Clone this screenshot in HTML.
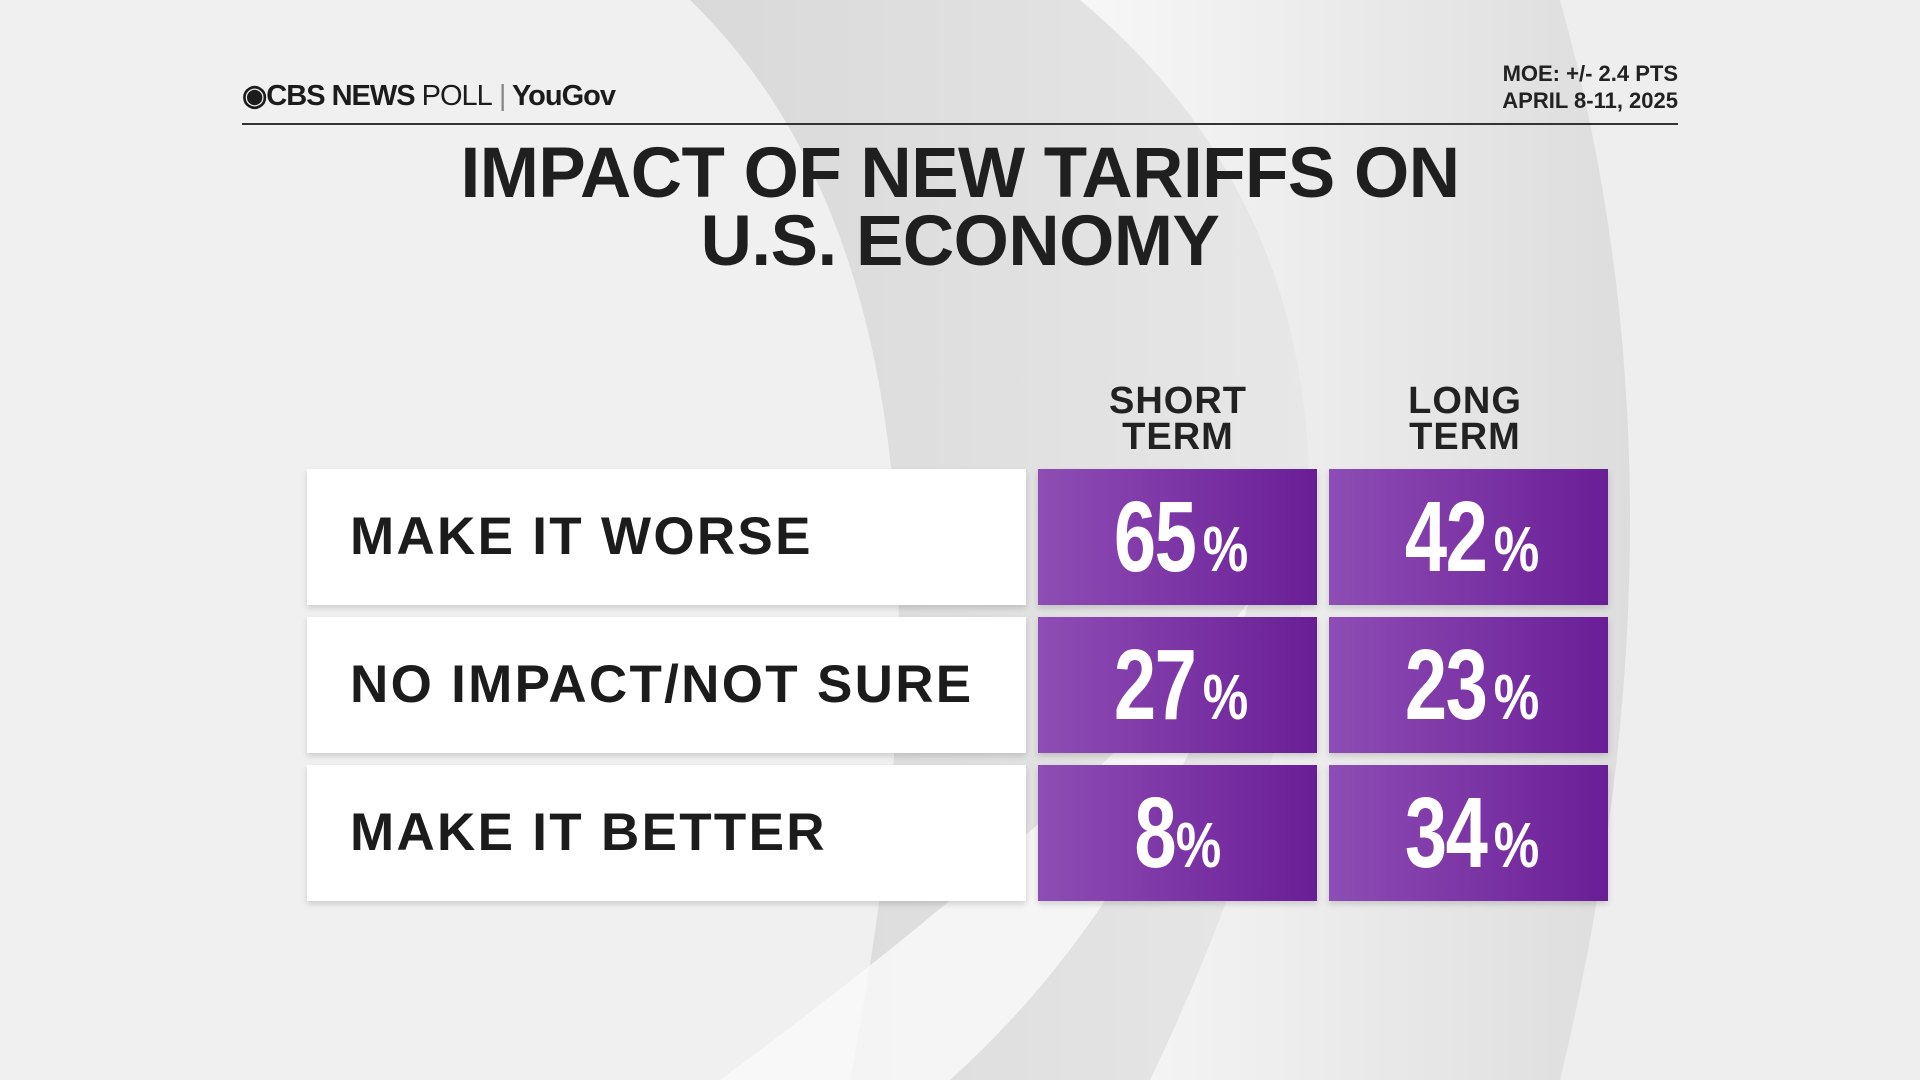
<!DOCTYPE html>
<html><head><meta charset="utf-8"><style>
body{margin:0;width:1920px;height:1080px;overflow:hidden;background:#efefef;font-family:"Liberation Sans",sans-serif;position:relative}
.bg{position:absolute;left:0;top:0}
.abs{position:absolute}
.hdr{left:242px;top:78px;font-size:29px;font-weight:bold;color:#1c1c1c;letter-spacing:-1px}
.moe{right:242px;top:60px;font-size:22px;color:#222;text-align:right;line-height:27px;font-weight:bold}
.line{left:242px;top:123px;width:1436px;height:2px;background:#333}
.title{left:0;top:140px;text-align:center;font-size:71px;font-weight:bold;color:#1f1f1f;line-height:68px;letter-spacing:-0.5px}
.ch{font-size:38px;font-weight:bold;color:#222;text-align:center;line-height:36px;width:280px;top:383px;letter-spacing:1px}
.lab{left:307px;width:719px;height:136px;background:#fff;box-shadow:0 3px 6px rgba(0,0,0,.15);font-size:53px;font-weight:bold;color:#1c1c1c;line-height:136px;padding-left:43px;box-sizing:border-box;letter-spacing:2.3px;white-space:nowrap}
.cell{height:136px;width:279px;background:linear-gradient(90deg,#8e4db5,#6a1e96);color:#fff;text-align:center;line-height:136px;font-weight:bold;box-shadow:0 3px 6px rgba(0,0,0,.15)}
.cell b{display:inline-block;transform:scaleX(0.76);font-size:100px;letter-spacing:-2px}
.cell span{display:inline-block;transform:scaleX(0.8);font-size:64px;margin-left:-12px}
</style></head><body>
<svg class="bg" width="1920" height="1080">
<defs>
<linearGradient id="g1" x1="0" x2="1"><stop offset="0" stop-color="#d9d9d9"/><stop offset="1" stop-color="#f5f5f5"/></linearGradient>
<linearGradient id="g2" x1="0" x2="1"><stop offset="0" stop-color="#f7f7f7"/><stop offset="1" stop-color="#cfcfcf"/></linearGradient>
</defs>
<rect width="1920" height="1080" fill="#f0f0f0"/>
<path d="M690 0 Q1000 300 850 1080 L1920 1080 L1920 0 Z" fill="url(#g1)"/>
<path d="M1080 0 Q1500 350 1150 1080 L1920 1080 L1920 0 Z" fill="url(#g2)"/>
<path d="M1560 0 Q1700 500 1560 1080 L1920 1080 L1920 0 Z" fill="#eeeeee"/>
<path d="M720 1080 Q1100 800 1250 600 Q1150 900 950 1080 Z" fill="#fafafa" opacity=".8"/>
</svg>
<div class="abs hdr">◉CBS NEWS <span style="font-weight:normal">POLL</span> <span style="font-weight:normal;color:#888">|</span> YouGov</div>
<div class="abs moe">MOE: +/- 2.4 PTS<br>APRIL 8-11, 2025</div>
<div class="abs line"></div>
<div class="abs title" style="width:1920px">IMPACT OF NEW TARIFFS ON<br>U.S. ECONOMY</div>
<div class="abs ch" style="left:1038px">SHORT<br>TERM</div>
<div class="abs ch" style="left:1325px">LONG<br>TERM</div>
<div class="abs lab" style="top:469px">MAKE IT WORSE</div>
<div class="abs lab" style="top:617px">NO IMPACT/NOT SURE</div>
<div class="abs lab" style="top:765px">MAKE IT BETTER</div>
<div class="abs cell" style="left:1038px;top:469px"><b>65</b><span>%</span></div>
<div class="abs cell" style="left:1329px;top:469px"><b>42</b><span>%</span></div>
<div class="abs cell" style="left:1038px;top:617px"><b>27</b><span>%</span></div>
<div class="abs cell" style="left:1329px;top:617px"><b>23</b><span>%</span></div>
<div class="abs cell" style="left:1038px;top:765px"><b>8</b><span>%</span></div>
<div class="abs cell" style="left:1329px;top:765px"><b>34</b><span>%</span></div>
</body></html>
